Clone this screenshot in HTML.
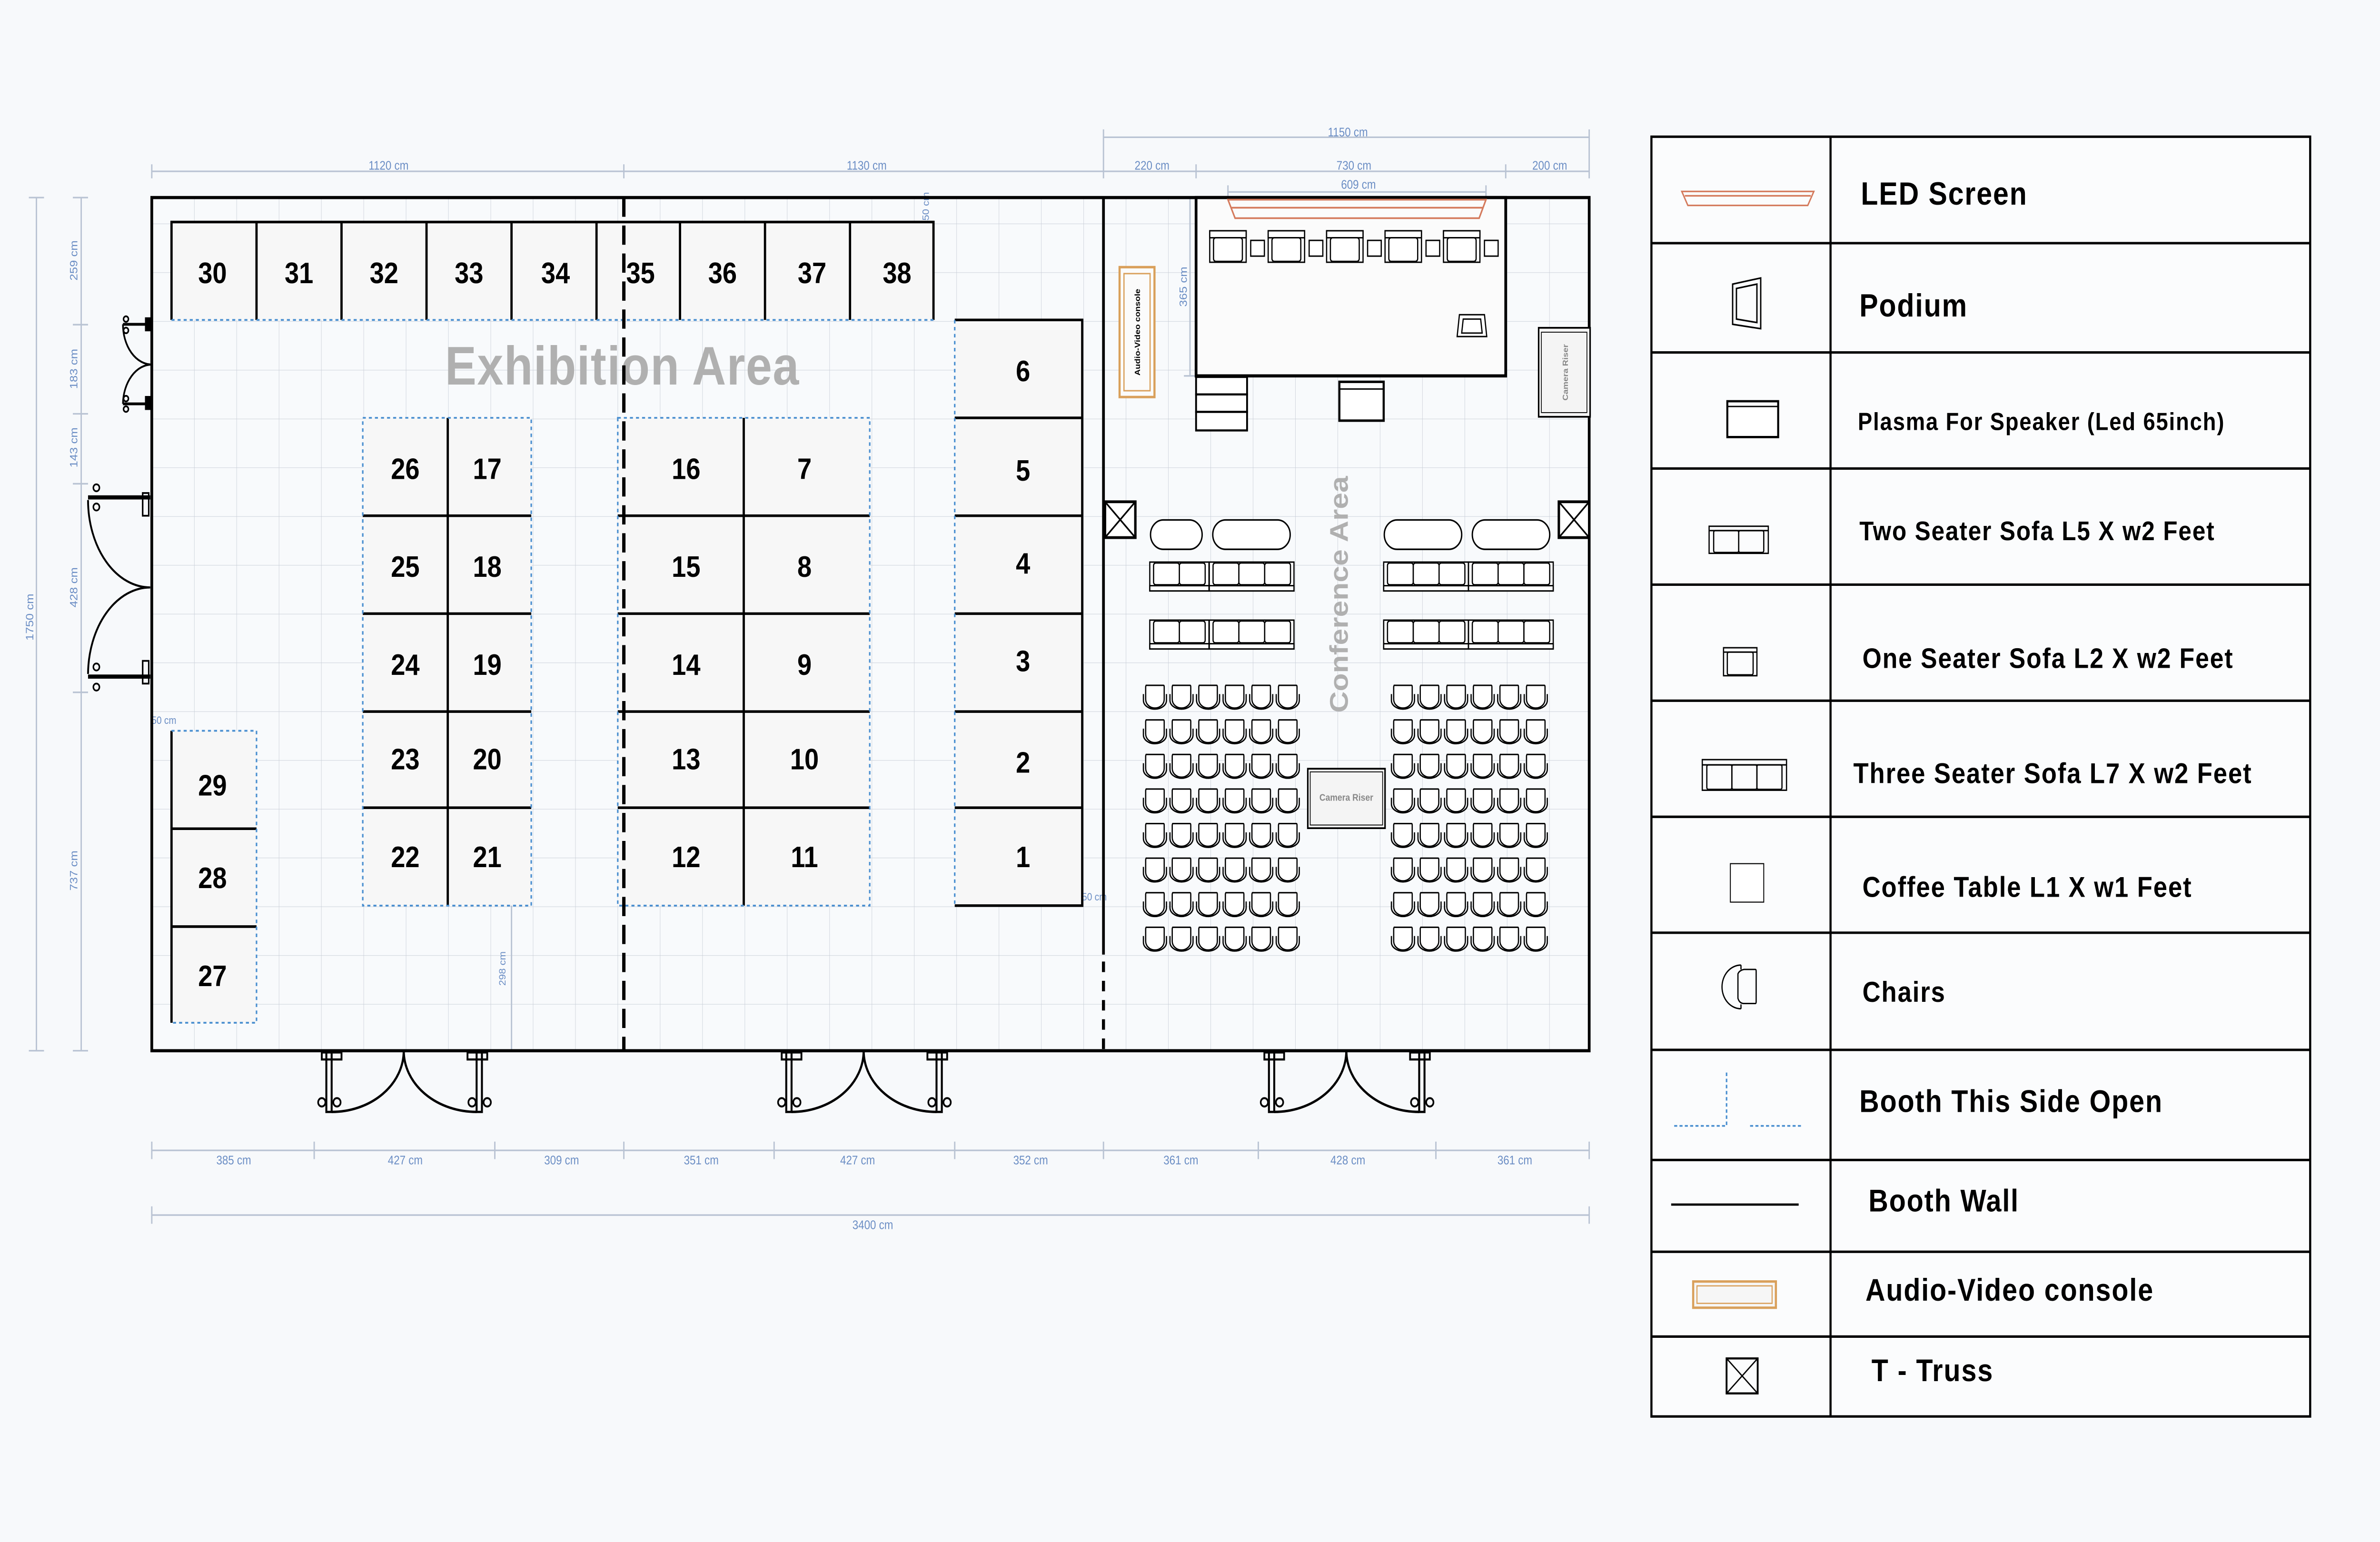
<!DOCTYPE html>
<html><head><meta charset="utf-8"><style>
html,body{margin:0;padding:0;background:#f7f9fb;width:100%;height:100%;overflow:hidden;}
svg{display:block;position:fixed;left:0;top:0;width:100vw;height:100vh;}
.d{font-family:"Liberation Sans",sans-serif;font-size:7px;fill:#6a8dc4;}
.dl{stroke:#b9c3d3;stroke-width:0.9;fill:none;}
.n{font-family:"Liberation Sans",sans-serif;font-weight:bold;font-size:17px;fill:#000;text-anchor:middle;}
.lg{font-family:"Liberation Sans",sans-serif;font-weight:bold;fill:#000;letter-spacing:0.6px;}
.bw{stroke:#000;stroke-width:1.5;fill:none;}
.bo{stroke:#4a8fd0;stroke-width:1;stroke-dasharray:2 2;fill:none;}
</style></head><body>
<svg viewBox="0 0 1568 882" preserveAspectRatio="none" xmlns="http://www.w3.org/2000/svg">
<defs>
<pattern id="grid" x="100" y="100" width="27.9" height="27.9" patternUnits="userSpaceOnUse">
<path d="M0,0 H27.9 M0,0 V27.9" stroke="#c7cdd6" stroke-width="0.5" fill="none"/>
</pattern>
<g id="ch" fill="none" stroke="#000" stroke-width="0.8">
<path d="M1.8,0 H13.6 Q14,0 14,1 V8 A6.1,5 0 0 1 1.8,8 V1 Q1.8,0 2.5,0 Z" fill="#fff"/>
<path d="M0.3,5 V8.6 A7.6,5 0 0 0 15.5,8.6 V5"/>
</g>
<g id="crow">
<use href="#ch" x="0"/><use href="#ch" x="17.5"/><use href="#ch" x="35"/><use href="#ch" x="52.5"/><use href="#ch" x="70"/><use href="#ch" x="87.5"/>
</g>
<g id="cblock">
<use href="#crow" y="0"/><use href="#crow" y="19.77"/><use href="#crow" y="39.54"/><use href="#crow" y="59.31"/><use href="#crow" y="79.08"/><use href="#crow" y="98.85"/><use href="#crow" y="118.62"/><use href="#crow" y="138.39"/>
</g>
<g id="seat2" fill="#fff" stroke="#000" stroke-width="0.8">
<rect x="0" y="0" width="39" height="16.5"/>
<rect x="0" y="13.5" width="39" height="3"/>
<rect x="2.5" y="0.5" width="17" height="12.5" rx="1.5"/>
<rect x="19.5" y="0.5" width="17" height="12.5" rx="1.5"/>
</g>
<g id="seat3" fill="#fff" stroke="#000" stroke-width="0.8">
<rect x="0" y="0" width="55.8" height="16.5"/>
<rect x="0" y="13.5" width="55.8" height="3"/>
<rect x="2.5" y="0.5" width="17" height="12.5" rx="1.5"/>
<rect x="19.5" y="0.5" width="17" height="12.5" rx="1.5"/>
<rect x="36.5" y="0.5" width="17" height="12.5" rx="1.5"/>
</g>
<g id="arm" fill="#fff" stroke="#000" stroke-width="0.8">
<rect x="0" y="0" width="24" height="18"/>
<rect x="0" y="0" width="24" height="4"/>
<rect x="2.5" y="4" width="19" height="13.5" rx="1.5"/>
</g>
<g id="door" fill="none" stroke="#000">
<rect x="-51" y="601" width="3.5" height="35" stroke-width="1.3"/>
<rect x="48" y="601" width="3.5" height="35" stroke-width="1.3"/>
<rect x="-54" y="602" width="13" height="4" stroke-width="1.2"/>
<rect x="42" y="602" width="13" height="4" stroke-width="1.2"/>
<path d="M-47.5,636 A47.5,35 0 0 0 0,601" stroke-width="1.4"/>
<path d="M48,636 A48,35 0 0 1 0,601" stroke-width="1.4"/>
<circle cx="-54" cy="630.5" r="2.4" stroke-width="1.1"/><circle cx="-44" cy="630.5" r="2.4" stroke-width="1.1"/>
<circle cx="45" cy="630.5" r="2.4" stroke-width="1.1"/><circle cx="55" cy="630.5" r="2.4" stroke-width="1.1"/>
</g>
</defs>

<rect width="1568" height="882" fill="#f7f9fb"/>

<rect x="100" y="113" width="947" height="488" fill="#f8fafc"/>
<rect x="100" y="113" width="947" height="488" fill="url(#grid)"/>

<g class="dl">
<path d="M100,98 H727 M727,78.5 H1047 M727,98 H1047 M809,109.8 H979"/>
<path d="M100,94 V102 M411,94 V102 M727,74 V102 M788,94 V102 M992,94 V102 M1047,74 V102 M809,106 V113 M979,106 V113"/>
<path d="M784,113 V215 M780,113 H788 M780,215 H788"/>
</g>
<text class="d" x="256" y="97" text-anchor="middle">1120 cm</text>
<text class="d" x="571" y="97" text-anchor="middle">1130 cm</text>
<text class="d" x="888" y="78" text-anchor="middle">1150 cm</text>
<text class="d" x="759" y="97" text-anchor="middle">220 cm</text>
<text class="d" x="892" y="97" text-anchor="middle">730 cm</text>
<text class="d" x="1021" y="97" text-anchor="middle">200 cm</text>
<text class="d" x="895" y="108" text-anchor="middle">609 cm</text>
<text class="d" transform="translate(782,164) rotate(-90)" text-anchor="middle">365 cm</text>
<text class="d" transform="translate(612,118) rotate(-90)" text-anchor="middle" style="font-size:6px">50 cm</text>

<g class="dl">
<path d="M53.5,113 V601 M24,113 V601"/>
<path d="M48,113 H58 M48,185.7 H58 M48,236.7 H58 M48,276.7 H58 M48,396 H58 M48,601 H58 M19,113 H29 M19,601 H29"/>
</g>
<text class="d" transform="translate(51,149) rotate(-90)" text-anchor="middle">259 cm</text>
<text class="d" transform="translate(51,211) rotate(-90)" text-anchor="middle">183 cm</text>
<text class="d" transform="translate(51,256) rotate(-90)" text-anchor="middle">143 cm</text>
<text class="d" transform="translate(51,336) rotate(-90)" text-anchor="middle">428 cm</text>
<text class="d" transform="translate(51,498) rotate(-90)" text-anchor="middle">737 cm</text>
<text class="d" transform="translate(22,353) rotate(-90)" text-anchor="middle">1750 cm</text>
<text class="d" x="108" y="414" text-anchor="middle" style="font-size:6px">50 cm</text>
<path d="M337,518 V601" class="dl"/>
<text class="d" transform="translate(333,554) rotate(-90)" text-anchor="middle" style="font-size:6px">298 cm</text>
<text class="d" x="721" y="515" text-anchor="middle" style="font-size:6px">50 cm</text>

<g class="dl">
<path d="M100,658 H1047 M100,695 H1047"/>
<path d="M100,653 V663 M207,653 V663 M326,653 V663 M411,653 V663 M510,653 V663 M629,653 V663 M727,653 V663 M829,653 V663 M946,653 V663 M1047,653 V663 M100,690 V700 M1047,690 V700"/>
</g>
<g class="d" text-anchor="middle">
<text x="154" y="666">385 cm</text><text x="267" y="666">427 cm</text><text x="370" y="666">309 cm</text>
<text x="462" y="666">351 cm</text><text x="565" y="666">427 cm</text><text x="679" y="666">352 cm</text>
<text x="778" y="666">361 cm</text><text x="888" y="666">428 cm</text><text x="998" y="666">361 cm</text>
<text x="575" y="703">3400 cm</text>
</g>

<text x="410" y="220" text-anchor="middle" style="font-family:'Liberation Sans',sans-serif;font-weight:bold;font-size:31px;fill:#b0b0b0;letter-spacing:0.5px">Exhibition Area</text>

<g>
<rect x="113" y="127" width="502" height="56" fill="#f7f7f7"/>
<path d="M113,183 V127 H615 V183 M169,127 V183 M225,127 V183 M281,127 V183 M337,127 V183 M393,127 V183 M448,127 V183 M504,127 V183 M560,127 V183" class="bw"/>
<path d="M113,183 H615" class="bo"/>
<g class="n">
<text x="140" y="162">30</text><text x="197" y="162">31</text><text x="253" y="162">32</text><text x="309" y="162">33</text><text x="366" y="162">34</text><text x="422" y="162">35</text><text x="476" y="162">36</text><text x="535" y="162">37</text><text x="591" y="162">38</text>
</g>
</g>

<rect x="629" y="183" width="84" height="335" fill="#f7f7f7"/>
<path d="M629,183 H713 V518 H629 M629,239 H713 M629,295 H713 M629,351 H713 M629,407 H713 M629,462 H713" class="bw"/>
<path d="M629,183 V518" class="bo"/>
<g class="n"><text x="674" y="218">6</text><text x="674" y="275">5</text><text x="674" y="328">4</text><text x="674" y="384">3</text><text x="674" y="442">2</text><text x="674" y="496">1</text></g>

<rect x="239" y="239" width="111" height="279" fill="#f7f7f7"/>
<path d="M295,239 V518 M239,295 H350 M239,351 H350 M239,407 H350 M239,462 H350" class="bw"/>
<rect x="239" y="239" width="111" height="279" class="bo"/>
<g class="n">
<text x="267" y="274">26</text><text x="321" y="274">17</text>
<text x="267" y="330">25</text><text x="321" y="330">18</text>
<text x="267" y="386">24</text><text x="321" y="386">19</text>
<text x="267" y="440">23</text><text x="321" y="440">20</text>
<text x="267" y="496">22</text><text x="321" y="496">21</text>
</g>

<rect x="407" y="239" width="166" height="279" fill="#f7f7f7"/>
<path d="M490,239 V518 M407,295 H573 M407,351 H573 M407,407 H573 M407,462 H573" class="bw"/>
<rect x="407" y="239" width="166" height="279" class="bo"/>
<g class="n">
<text x="452" y="274">16</text><text x="530" y="274">7</text>
<text x="452" y="330">15</text><text x="530" y="330">8</text>
<text x="452" y="386">14</text><text x="530" y="386">9</text>
<text x="452" y="440">13</text><text x="530" y="440">10</text>
<text x="452" y="496">12</text><text x="530" y="496">11</text>
</g>

<rect x="113" y="418" width="56" height="167" fill="#f7f7f7"/>
<path d="M113,418 V585 M113,474 H169 M113,530 H169" class="bw"/>
<path d="M113,418 H169 V585 H113" class="bo"/>
<g class="n"><text x="140" y="455">29</text><text x="140" y="508">28</text><text x="140" y="564">27</text></g>

<path d="M411,113 V601" stroke="#000" stroke-width="2.2" stroke-dasharray="11 5"/>
<path d="M727,113 V546" stroke="#000" stroke-width="1.8"/>
<path d="M727,550 V601" stroke="#000" stroke-width="2" stroke-dasharray="6 5"/>

<rect x="100" y="113" width="947" height="488" fill="none" stroke="#000" stroke-width="1.8"/>

<g fill="none" stroke="#000">
<path d="M81,185.5 H100 M81,231 H100" stroke-width="1.6"/>
<path d="M81,185.5 A19,23 0 0 0 100,208.5 M81,231 A19,23 0 0 1 100,208.5" stroke-width="1.1"/>
<circle cx="83" cy="182.5" r="1.6"/><circle cx="83" cy="189" r="1.6"/><circle cx="83" cy="228" r="1.6"/><circle cx="83" cy="234" r="1.6"/>
<rect x="96" y="182" width="4" height="7" fill="#000"/><rect x="96" y="227" width="4" height="7" fill="#000"/>
<path d="M58,284.5 H99 M58,387 H99" stroke-width="2.4"/>
<path d="M58,286 A41,50 0 0 0 99,336 M58,385.5 A41,50 0 0 1 99,336" stroke-width="1.2"/>
<circle cx="63.5" cy="279" r="2"/><circle cx="63.5" cy="290" r="2"/><circle cx="63.5" cy="381.5" r="2"/><circle cx="63.5" cy="393" r="2"/>
<rect x="94" y="282" width="4" height="13"/><rect x="94" y="378" width="4" height="13"/>
</g>

<use href="#door" x="266"/>
<use href="#door" x="569"/>
<use href="#door" x="887"/>

<rect x="788" y="113" width="204" height="102" fill="#fbfbfb" stroke="#000" stroke-width="1.8"/>
<path d="M809,114.2 H979 L974.5,124.8 H813.7 Z M811,118.8 H977" fill="none" stroke="#d47a5c" stroke-width="1"/>
<use href="#arm" x="797" y="132"/><use href="#arm" x="835.5" y="132"/><use href="#arm" x="874" y="132"/><use href="#arm" x="912.5" y="132"/><use href="#arm" x="951" y="132"/>
<g fill="#fff" stroke="#000" stroke-width="0.8">
<rect x="824" y="137.5" width="9" height="9"/><rect x="862.5" y="137.5" width="9" height="9"/><rect x="901" y="137.5" width="9" height="9"/><rect x="939.5" y="137.5" width="9" height="9"/><rect x="978" y="137.5" width="9" height="9"/>
</g>
<g fill="#fff" stroke="#000" stroke-width="0.8">
<path d="M960,192.5 L961.5,180 H978 L979.5,192.5 Z"/><path d="M963,190.5 L964,182.5 H975.5 L976.5,190.5 Z"/>
</g>
<g fill="#fff" stroke="#000" stroke-width="1.2">
<rect x="788" y="215.6" width="33.6" height="10"/><rect x="788" y="225.6" width="33.6" height="10"/><rect x="788" y="235.6" width="33.6" height="10.6"/>
</g>
<rect x="882.4" y="218.4" width="29.2" height="22.2" fill="#fff" stroke="#000" stroke-width="1.4"/>
<path d="M882.4,222.5 H911.6" stroke="#000" stroke-width="0.8"/>
<rect x="737.6" y="152.8" width="23" height="74.3" fill="#fbfbfb" stroke="#d9a05b" stroke-width="1.4"/>
<rect x="740.5" y="156.5" width="17.2" height="67" fill="none" stroke="#d9a05b" stroke-width="0.8"/>
<text transform="translate(751,190) rotate(-90)" text-anchor="middle" style="font-family:'Liberation Sans',sans-serif;font-weight:bold;font-size:5px;fill:#000">Audio-Video console</text>
<rect x="1013.7" y="187.5" width="33.9" height="50.9" fill="#f4f4f4" stroke="#000" stroke-width="1"/>
<rect x="1015.5" y="190" width="30" height="46" fill="none" stroke="#000" stroke-width="0.5"/>
<text transform="translate(1033,213) rotate(-90)" text-anchor="middle" style="font-family:'Liberation Sans',sans-serif;font-weight:bold;font-size:5px;fill:#888">Camera Riser</text>

<g fill="#fff" stroke="#000" stroke-width="1.6">
<rect x="728" y="287" width="20" height="20.5"/><path d="M728,287 L748,307.5 M748,287 L728,307.5" stroke-width="1"/>
<rect x="1027" y="287" width="20" height="20.5"/><path d="M1027,287 L1047,307.5 M1047,287 L1027,307.5" stroke-width="1"/>
</g>
<g fill="#fff" stroke="#000" stroke-width="0.9">
<rect x="758" y="297.4" width="34" height="16.8" rx="8.4"/>
<rect x="799" y="297.4" width="51" height="16.8" rx="8.4"/>
<rect x="912" y="297.4" width="51" height="16.8" rx="8.4"/>
<rect x="970" y="297.4" width="51" height="16.8" rx="8.4"/>
</g>
<use href="#seat2" x="757.5" y="321.5"/><use href="#seat3" x="796.7" y="321.5"/>
<use href="#seat3" x="911.6" y="321.5"/><use href="#seat3" x="967.5" y="321.5"/>
<use href="#seat2" x="757.5" y="354.7"/><use href="#seat3" x="796.7" y="354.7"/>
<use href="#seat3" x="911.6" y="354.7"/><use href="#seat3" x="967.5" y="354.7"/>
<use href="#cblock" x="753" y="392"/>
<use href="#cblock" x="916.4" y="392"/>
<rect x="861.6" y="439.7" width="50.9" height="34" fill="#f4f4f4" stroke="#000" stroke-width="1"/>
<rect x="863.2" y="441.5" width="47.7" height="30.4" fill="none" stroke="#000" stroke-width="0.5"/>
<text x="887" y="458" text-anchor="middle" style="font-family:'Liberation Sans',sans-serif;font-weight:bold;font-size:5.5px;fill:#888">Camera Riser</text>
<text transform="translate(888,340) rotate(-90)" text-anchor="middle" style="font-family:'Liberation Sans',sans-serif;font-weight:bold;font-size:17px;fill:#b0b0b0">Conference Area</text>

<rect x="1088" y="78.2" width="434" height="732" fill="#fbfcfd" stroke="#000" stroke-width="1.4"/>
<path d="M1206,78.2 V810 M1088,139.1 H1522 M1088,201.6 H1522 M1088,268 H1522 M1088,334.4 H1522 M1088,400.8 H1522 M1088,467.2 H1522 M1088,533.5 H1522 M1088,600.5 H1522 M1088,663.5 H1522 M1088,716 H1522 M1088,764.5 H1522" stroke="#000" stroke-width="1.4" fill="none"/>
<g class="lg">
<text x="1226" y="117" style="font-size:18.5px">LED Screen</text>
<text x="1225" y="181" style="font-size:18.5px">Podium</text>
<text x="1224" y="246" style="font-size:14.2px">Plasma For Speaker (Led 65inch)</text>
<text x="1225" y="309" style="font-size:15.5px">Two Seater Sofa L5 X w2 Feet</text>
<text x="1227" y="382" style="font-size:16.2px">One Seater Sofa L2 X w2 Feet</text>
<text x="1221" y="448" style="font-size:16.5px">Three Seater Sofa L7 X w2 Feet</text>
<text x="1227" y="513" style="font-size:16.5px">Coffee Table L1 X w1 Feet</text>
<text x="1227" y="573" style="font-size:16.5px">Chairs</text>
<text x="1225" y="636" style="font-size:18px">Booth This Side Open</text>
<text x="1231" y="693" style="font-size:18px">Booth Wall</text>
<text x="1229" y="744" style="font-size:18px">Audio-Video console</text>
<text x="1233" y="790" style="font-size:18px">T - Truss</text>
</g>
<path d="M1108,109.5 H1195 L1191,117.5 H1112 Z M1110,112 H1193" fill="none" stroke="#d47a5c" stroke-width="0.9"/>
<g fill="none" stroke="#000" stroke-width="0.9">
<path d="M1141.5,162.5 L1160,159 V188 L1141.5,185.5 Z"/><path d="M1144,165 L1157.5,162.5 V184.5 L1144,182.5 Z"/>
</g>
<rect x="1138" y="229.5" width="33.5" height="20.5" fill="#fff" stroke="#000" stroke-width="1.3"/>
<path d="M1138,232.5 H1171.5" stroke="#000" stroke-width="0.8"/>
<g fill="none" stroke="#000" stroke-width="0.8">
<rect x="1126" y="301" width="39" height="15.5"/><path d="M1126,303.5 H1165"/>
<rect x="1129" y="303.5" width="16.5" height="12.5" rx="1"/><rect x="1145.5" y="303.5" width="16.5" height="12.5" rx="1"/>
<rect x="1135.5" y="370.5" width="22" height="16"/><path d="M1135.5,373 H1157.5"/><rect x="1138" y="373" width="17" height="13" rx="1"/>
<rect x="1121.5" y="434.5" width="55.5" height="17.5"/><path d="M1121.5,437.5 H1177"/>
<rect x="1124.5" y="437.5" width="16.5" height="14" rx="1"/><rect x="1141" y="437.5" width="16.5" height="14" rx="1"/><rect x="1157.5" y="437.5" width="16.5" height="14" rx="1"/>
</g>
<rect x="1140" y="494" width="22" height="22" fill="#fff" stroke="#000" stroke-width="0.6"/>
<g fill="none" stroke="#000" stroke-width="0.8">
<path d="M1156.5,554.5 H1149 Q1146,555 1145,557 L1145,571 Q1146,574 1149,574 H1156.5 Q1157,574 1157,573 V555.5 Q1157,554.5 1156.5,554.5 Z"/>
<path d="M1147,552 A12,12 0 0 0 1147,577 M1147,552 V554.5 M1147,577 V574.5"/>
</g>
<path d="M1103,644 H1137.5 V612 M1153,644 H1187" fill="none" stroke="#4a8fd0" stroke-width="1" stroke-dasharray="2 1.5"/>
<path d="M1101,689 H1185" stroke="#000" stroke-width="1.3"/>
<rect x="1115.5" y="733" width="54.5" height="15" fill="#f6f6f6" stroke="#d9a05b" stroke-width="1.4"/>
<rect x="1118" y="735.5" width="49.5" height="10" fill="none" stroke="#d9a05b" stroke-width="0.7"/>
<g fill="none" stroke="#000">
<rect x="1137.5" y="777" width="20.5" height="20" stroke-width="1.2"/>
<path d="M1137.5,777 L1158,797 M1158,777 L1137.5,797" stroke-width="0.8"/>
</g>
</svg>
</body></html>
